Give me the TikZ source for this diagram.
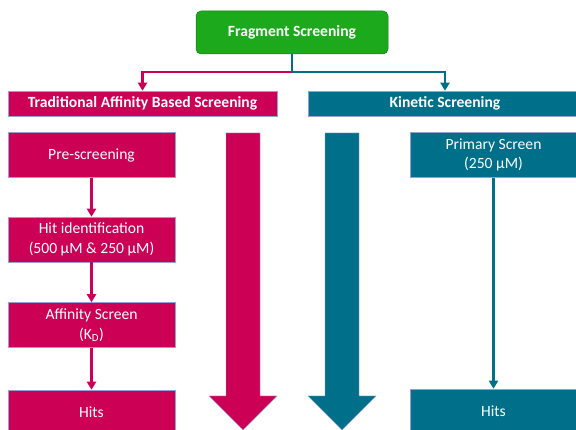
\documentclass[tikz,border=0pt]{standalone}
\usepackage{fontspec}
\setmainfont{Carlito}
\usepackage{xcolor}
\definecolor{fragpink}{RGB}{204, 0, 85}
\definecolor{fragteal}{RGB}{0, 112, 138}
\definecolor{fraggreen}{RGB}{28, 170, 28}
\definecolor{edgeblue}{RGB}{150, 160, 210}
\usetikzlibrary{positioning, arrows.meta}

\begin{document}
\begin{tikzpicture}[x=1pt, y=-1pt, node distance=16pt,
        headbox/.style={rectangle, draw=edgeblue, line width=0.5pt, text=white, inner sep=0pt, minimum height=25pt, font=\fontsize{15.6}{19.5}\selectfont\bfseries},
        stepbox/.style={rectangle, draw=edgeblue, line width=0.5pt, text=white, inner sep=0pt, align=center, minimum width=167pt, minimum height=45pt, font=\fontsize{15.6}{19.5}\selectfont},
        line/.style={line width=2.2pt, -{Triangle[width=9pt, length=8pt]}},
        bigarrow/.style={draw=edgeblue, line width=0.4pt}]
        \useasboundingbox (0,0) rectangle (576,430);

        % Cabecera
        \node [headbox, fill=fraggreen, draw=fraggreen!70!black, rounded corners=5pt, minimum width=192pt, minimum height=43pt] (frag) at (292,32.5) {Fragment Screening};
        \node [headbox, fill=fragpink, minimum width=269pt] (trad) at (142.5,103.5) {Traditional Affinity Based Screening};
        \node [headbox, fill=fragteal, minimum width=274pt] (kin) at (445,103.5) {Kinetic Screening};

        % Columna izquierda
        \node [stepbox, fill=fragpink, below right=16pt and 0pt of trad.south west] (pre) {Pre-screening};
        \node [stepbox, fill=fragpink, below=39pt of pre] (hitid) {Hit identification\\(500 µM \& 250 µM)};
        \node [stepbox, fill=fragpink, below=40pt of hitid] (aff) {Affinity Screen\\(K\textsubscript{D})};
        \node [stepbox, fill=fragpink, below=42pt of aff] (hitsleft) {Hits};

        % Columna derecha
        \node [stepbox, fill=fragteal, below right=16pt and 102pt of kin.south west] (primary) {Primary Screen\\(250 µM)};
        \node [stepbox, fill=fragteal, below=211pt of primary] (hitsright) {Hits};

        % Flechas grandes
        \foreach \cx/\col in {243/fragpink, 342/fragteal}
            \fill [bigarrow, fill=\col] ({\cx-17},133) -- ({\cx+17},133) -- ({\cx+17},396) -- ({\cx+34},396) -- (\cx,430) -- ({\cx-34},396) -- ({\cx-17},396) -- cycle;

        % Conectores
        \coordinate (split) at (frag.south |- 0,72);
        \draw [line, fragteal] (frag.south) -- (split) -| (kin.north);
        \draw [line, fragpink] (split) -| (trad.north);
        \draw [line, fragpink] (pre) -- (hitid);
        \draw [line, fragpink] (hitid) -- (aff);
        \draw [line, fragpink] (aff) -- (hitsleft);
        \draw [line, fragteal] (primary) -- (hitsright);
    \end{tikzpicture}
\end{document}
